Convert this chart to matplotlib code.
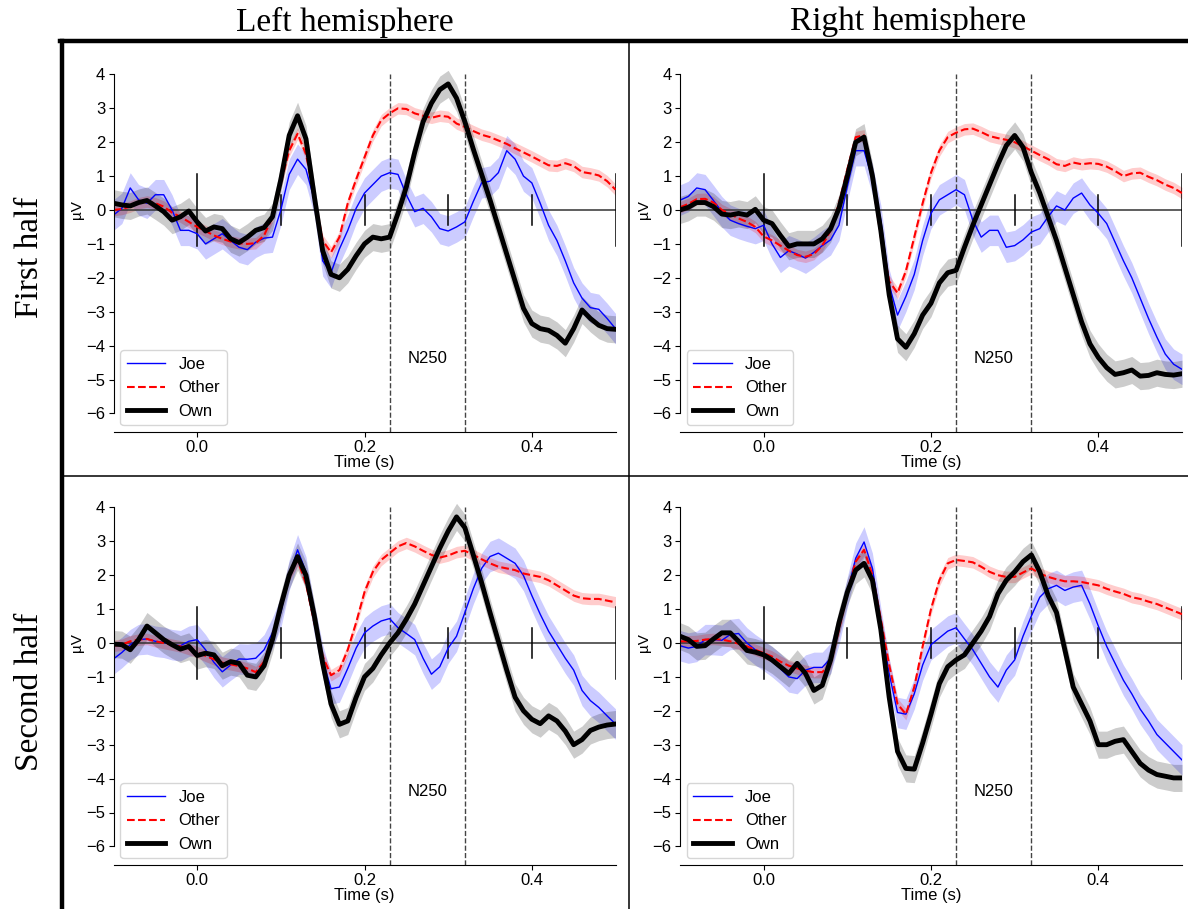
import numpy as np
import matplotlib.pyplot as plt
from matplotlib.lines import Line2D

plt.rcParams['font.family'] = ['Liberation Sans', 'DejaVu Sans']

""" ========================  Data (µV, read off the figure) ============== """
times = np.round(np.arange(-0.10, 0.501, 0.01), 2)

# First half, left hemisphere
joe_first_left = [-0.15, 0.05, 0.65, 0.3, 0.2, 0.45, 0.45, 0.0, -0.6, -0.6,
                  -0.7, -1.0, -0.85, -0.7, -0.9, -1.1, -1.17, -0.95, -0.83, -0.8,
                  0.0, 1.05, 1.5, 1.2, 0.3, -1.5, -1.85, -1.15, -0.6, 0.05,
                  0.5, 0.75, 1.0, 1.1, 1.05, 0.45, -0.05, 0.05, -0.2, -0.55,
                  -0.62, -0.5, -0.35, 0.25, 0.8, 0.85, 1.1, 1.75, 1.5, 1.0,
                  0.8, 0.2, -0.45, -0.9, -1.5, -2.15, -2.6, -2.88, -2.93, -3.2,
                  -3.5]
other_first_left = [0.0, 0.03, 0.1, 0.2, 0.25, 0.2, 0.1, -0.08, -0.2, -0.35,
                    -0.5, -0.62, -0.75, -0.85, -0.93, -0.98, -1.0, -0.98, -0.75, -0.2,
                    0.8, 1.75, 2.25, 1.65, 0.4, -0.9, -1.25, -0.8, 0.2, 0.9,
                    1.55, 2.2, 2.65, 2.85, 3.0, 2.98, 2.85, 2.78, 2.72, 2.78,
                    2.75, 2.55, 2.45, 2.33, 2.22, 2.15, 2.05, 1.95, 1.82, 1.7,
                    1.58, 1.45, 1.32, 1.3, 1.38, 1.3, 1.12, 1.08, 1.02, 0.85,
                    0.6]
own_first_left = [0.2, 0.15, 0.12, 0.22, 0.28, 0.12, -0.05, -0.3, -0.2, -0.03,
                  -0.35, -0.62, -0.5, -0.55, -0.85, -0.96, -0.8, -0.6, -0.52, -0.2,
                  0.9, 2.2, 2.78, 2.1, 0.4, -1.2, -1.9, -2.0, -1.75, -1.35,
                  -1.0, -0.8, -0.85, -0.8, -0.1, 0.68, 1.7, 2.6, 3.15, 3.55,
                  3.72, 3.3, 2.6, 1.8, 1.05, 0.3, -0.5, -1.3, -2.1, -2.9,
                  -3.35, -3.5, -3.55, -3.7, -3.93, -3.5, -2.95, -3.2, -3.4, -3.5,
                  -3.52]

# First half, right hemisphere
joe_first_right = [0.29, 0.4, 0.65, 0.6, 0.28, -0.05, -0.3, -0.4, -0.48, -0.55,
                   -0.45, -1.0, -1.4, -1.2, -1.3, -1.42, -1.25, -1.05, -0.88, -0.45,
                   0.7, 1.75, 1.75, 0.9, -0.3, -2.2, -3.1, -2.55, -1.9, -0.9,
                   -0.1, 0.3, 0.45, 0.6, 0.45, -0.3, -0.8, -0.6, -0.6, -1.1,
                   -1.05, -0.88, -0.65, -0.55, -0.2, 0.12, 0.0, 0.35, 0.5, 0.15,
                   -0.1, -0.4, -0.95, -1.5, -2.0, -2.6, -3.2, -3.75, -4.25, -4.55,
                   -4.7]
other_first_right = [0.08, 0.18, 0.32, 0.33, 0.22, 0.0, -0.12, -0.25, -0.35, -0.5,
                     -0.78, -0.9, -1.05, -1.2, -1.33, -1.38, -1.3, -1.05, -0.6, 0.2,
                     1.2, 2.15, 2.2, 0.9, -0.8, -2.1, -2.45, -1.8, -0.8, 0.2,
                     1.1, 1.75, 2.15, 2.28, 2.38, 2.4, 2.3, 2.18, 2.12, 2.07,
                     2.0, 1.88, 1.75, 1.62, 1.5, 1.35, 1.3, 1.4, 1.35, 1.38,
                     1.36, 1.28, 1.15, 1.0, 1.08, 1.1, 0.98, 0.88, 0.75, 0.65,
                     0.5]
own_first_right = [0.0, 0.08, 0.22, 0.22, 0.1, -0.12, -0.15, -0.1, -0.15, 0.02,
                   -0.3, -0.4, -0.75, -1.07, -1.0, -1.0, -1.0, -0.85, -0.55, 0.05,
                   1.0, 2.0, 2.15, 1.0, -0.6, -2.5, -3.8, -4.05, -3.65, -3.1,
                   -2.75, -2.15, -1.85, -1.78, -1.1, -0.45, 0.15, 0.75, 1.35, 1.9,
                   2.2, 1.85, 1.1, 0.5, -0.2, -0.9, -1.7, -2.5, -3.3, -3.95,
                   -4.35, -4.65, -4.85, -4.8, -4.72, -4.9, -4.88, -4.8, -4.85, -4.87,
                   -4.83]

# Second half, left hemisphere
joe_second_left = [-0.47, -0.28, -0.05, 0.1, 0.12, 0.05, 0.02, -0.05, -0.08, 0.05,
                   0.1, -0.2, -0.57, -0.85, -0.65, -0.47, -0.48, -0.45, -0.2, 0.3,
                   0.9, 2.0, 2.75, 2.1, 0.7, -0.5, -1.35, -1.3, -0.75, -0.15,
                   0.3, 0.5, 0.65, 0.72, 0.45, 0.28, 0.1, -0.45, -0.92, -0.7,
                   -0.15, 0.2, 0.9, 1.6, 2.2, 2.55, 2.65, 2.5, 2.35, 1.99,
                   1.4, 0.85, 0.35, -0.05, -0.45, -0.8, -1.4, -1.7, -1.9, -2.15,
                   -2.39]
other_second_left = [-0.08, -0.05, 0.05, 0.1, 0.12, 0.05, 0.0, -0.05, -0.1, -0.18,
                     -0.27, -0.38, -0.48, -0.58, -0.63, -0.68, -0.75, -0.86, -0.55, 0.2,
                     1.1, 2.0, 2.45, 1.75, 0.6, -0.4, -0.95, -0.8, -0.2, 0.6,
                     1.5, 2.1, 2.45, 2.65, 2.85, 2.95, 2.85, 2.72, 2.6, 2.52,
                     2.58, 2.68, 2.72, 2.6, 2.47, 2.35, 2.25, 2.2, 2.15, 2.05,
                     2.0, 1.95, 1.85, 1.7, 1.55, 1.4, 1.32, 1.3, 1.3, 1.25,
                     1.2]
own_second_left = [-0.03, -0.05, -0.2, 0.1, 0.5, 0.3, 0.1, -0.05, -0.18, -0.1,
                   -0.37, -0.3, -0.35, -0.67, -0.55, -0.6, -0.95, -1.0, -0.67, 0.1,
                   1.1, 2.0, 2.55, 2.0, 0.8, -0.6, -1.8, -2.4, -2.3, -1.6,
                   -1.0, -0.75, -0.35, 0.0, 0.3, 0.7, 1.15, 1.7, 2.25, 2.8,
                   3.3, 3.72, 3.4, 2.6, 1.78, 0.9, 0.05, -0.8, -1.6, -2.0,
                   -2.25, -2.38, -2.15, -2.3, -2.6, -3.0, -2.85, -2.58, -2.48, -2.42,
                   -2.39]

# Second half, right hemisphere
joe_second_right = [-0.08, -0.15, -0.1, 0.1, 0.1, 0.08, 0.25, 0.28, 0.0, -0.2,
                    -0.37, -0.55, -0.76, -1.0, -1.05, -0.8, -0.72, -0.72, -0.45, 0.4,
                    1.5, 2.5, 2.98, 2.2, 0.6, -0.9, -2.05, -2.1, -1.5, -0.65,
                    -0.05, 0.15, 0.35, 0.45, 0.12, -0.2, -0.6, -1.0, -1.3, -0.8,
                    -0.5, 0.2, 0.8, 1.35, 1.6, 1.7, 1.55, 1.65, 1.7, 1.15,
                    0.5, -0.1, -0.6, -1.1, -1.5, -1.95, -2.3, -2.7, -2.95, -3.2,
                    -3.45]
other_second_right = [0.05, 0.05, 0.06, 0.1, 0.12, 0.1, 0.05, -0.02, -0.1, -0.2,
                      -0.3, -0.4, -0.55, -0.67, -0.75, -0.82, -0.86, -0.86, -0.6, 0.4,
                      1.5, 2.4, 2.75, 2.0, 0.7, -0.65, -1.8, -2.1, -1.3, -0.1,
                      1.0, 1.85, 2.35, 2.45, 2.42, 2.38, 2.25, 2.1, 2.0, 1.95,
                      1.95, 2.08, 2.2, 2.05, 1.95, 1.88, 1.82, 1.82, 1.8, 1.75,
                      1.7, 1.6, 1.52, 1.45, 1.35, 1.3, 1.22, 1.15, 1.05, 0.95,
                      0.85]
own_second_right = [0.2, 0.1, -0.1, -0.08, 0.12, 0.3, 0.3, 0.05, -0.22, -0.27,
                    -0.35, -0.5, -0.7, -0.9, -0.6, -0.9, -1.4, -1.25, -0.5, 0.6,
                    1.5, 2.15, 2.35, 1.85, 0.4, -1.6, -3.2, -3.7, -3.72, -2.95,
                    -2.1, -1.2, -0.7, -0.5, -0.35, 0.0, 0.35, 0.78, 1.45, 1.85,
                    2.1, 2.4, 2.6, 2.1, 1.4, 0.9, -0.2, -1.3, -1.8, -2.3,
                    -3.0, -3.0, -2.9, -2.85, -3.2, -3.55, -3.75, -3.88, -3.93, -3.98,
                    -3.98]

conditions = ['Joe', 'Other', 'Own']
ci_halfwidth = [0.45, 0.17, 0.4]   # rough 95% CI half widths
row_titles = ['First half', 'Second half']
col_titles = ['Left hemisphere', 'Right hemisphere']
n250_window = [0.23, 0.32]

panels = [[(joe_first_left, other_first_left, own_first_left),
           (joe_first_right, other_first_right, own_first_right)],
          [(joe_second_left, other_second_left, own_second_left),
           (joe_second_right, other_second_right, own_second_right)]]

""" ========================  Styling ===================================== """
colors = ['#0000ff', '#ff0000', 'k']
styles = ['-', '--', '-']
widths = [1.0, 1.5, 3.5]

W, H = 1188, 909
ylo, yhi = -6.55, 4.4
pxUnit = 33.9       # pixels per µV
axW = 502
axLeft = [113.5, 680]
zeroRow = [210, 643]

fig = plt.figure(figsize=(W / 100, H / 100), dpi=100)

for r in range(2):
    for c in range(2):
        top = zeroRow[r] - yhi * pxUnit
        ax = fig.add_axes([axLeft[c] / W, 1 - (top + (yhi - ylo) * pxUnit) / H,
                           axW / W, (yhi - ylo) * pxUnit / H])
        for k in range(3):
            y = np.array(panels[r][c][k])
            ax.fill_between(times, y - ci_halfwidth[k], y + ci_halfwidth[k],
                            color=colors[k], alpha=0.2, lw=0)
            ax.plot(times, y, color=colors[k], linestyle=styles[k],
                    lw=widths[k], label=conditions[k])

        # zero line and time markers
        ax.axhline(0, color='#333333', lw=1.1, zorder=1)
        for t in np.arange(0, 0.51, 0.1):
            h = 1.07 if (t < 0.05 or t > 0.45) else 0.43
            ax.plot([t, t], [-h, h], color='k', lw=1.1, zorder=1)
        for t in n250_window:
            ax.plot([t, t], [ylo, 4], color='#444444', lw=1, linestyle='--',
                    zorder=1)
        ax.text(0.275, -4.37, 'N250', ha='center', va='center', fontsize=12)

        ax.set_xlim(-0.1, 0.5)
        ax.set_ylim(ylo, yhi)
        ax.set_yticks(np.arange(-6, 5, 1))
        ax.set_xticks([0.0, 0.2, 0.4])
        ax.set_xticklabels(['0.0', '0.2', '0.4'])
        ax.tick_params(labelsize=12, length=3.5, pad=2.5)
        ax.tick_params(axis='x', pad=2)
        ax.spines['top'].set_visible(False)
        ax.spines['right'].set_visible(False)
        ax.spines['left'].set_bounds(-6, 4)
        ax.spines['bottom'].set_bounds(-0.1, 0.5)
        ax.set_xlabel('Time (s)', fontsize=12, labelpad=0)
        ax.set_ylabel('µV', fontsize=11)
        ax.yaxis.set_label_coords(-0.058, (0 - ylo) / (yhi - ylo))
        ax.legend(loc='lower left', fontsize=12, handlelength=2.3,
                  borderaxespad=0.4)

# frame lines between panels
fig.add_artist(Line2D([62 / W, 62 / W], [0, 1 - 41 / H], color='k', lw=3.2))
fig.add_artist(Line2D([60 / W, 1], [1 - 41 / H, 1 - 41 / H], color='k', lw=3.2))
fig.add_artist(Line2D([629 / W, 629 / W], [0, 1 - 41 / H], color='k', lw=1.1))
fig.add_artist(Line2D([62 / W, 1], [1 - 476 / H, 1 - 476 / H], color='k', lw=1.1))

for c, title in enumerate(col_titles):
    xc = [345, 908][c]
    fig.text(xc / W, 1 - 22 / H, title, ha='center', va='center',
             fontsize=24, family='Liberation Serif')
for r, title in enumerate(row_titles):
    yc = [257, 692][r]
    fig.text(30 / W, 1 - yc / H, title, ha='center', va='center',
             rotation=90, fontsize=24, family='Liberation Serif')

fig.savefig('out.png', dpi=100)
